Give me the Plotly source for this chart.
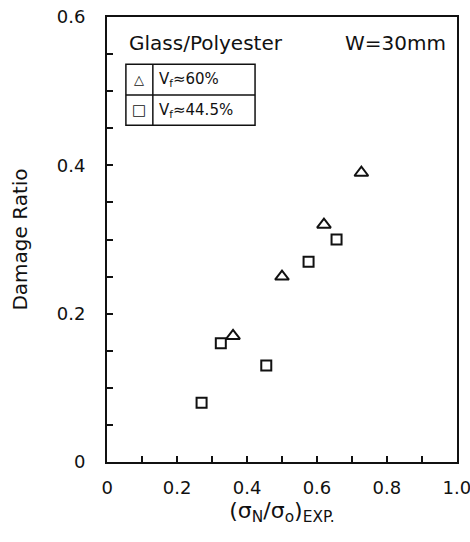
import plotly.graph_objects as go

# Data
vf60_x = [0.36, 0.50, 0.62, 0.727]
vf60_y = [0.17, 0.25, 0.32, 0.39]
vf445_x = [0.27, 0.325, 0.455, 0.576, 0.656]
vf445_y = [0.08, 0.16, 0.13, 0.27, 0.30]

x_tickvals = [0, 0.2, 0.4, 0.6, 0.8, 1.0]
x_ticktext = ["0", "0.2", "0.4", "0.6", "0.8", "1.0"]
y_tickvals = [0, 0.2, 0.4, 0.6]
y_ticktext = ["0", "0.2", "0.4", "0.6"]

FONT = "DejaVu Sans"
BLACK = "#111111"

fig = go.Figure()
fig.add_trace(go.Scatter(
    x=vf60_x, y=vf60_y, mode="markers", name="Vf≈60%",
    marker=dict(symbol="triangle-up-open", size=12, color=BLACK,
                line=dict(width=2, color=BLACK)),
))
fig.add_trace(go.Scatter(
    x=vf445_x, y=vf445_y, mode="markers", name="Vf≈44.5%",
    marker=dict(symbol="square-open", size=10, color=BLACK,
                line=dict(width=2, color=BLACK)),
))

axis_common = dict(
    showgrid=False, zeroline=False, showline=True, linecolor=BLACK,
    linewidth=2, mirror=True, ticks="inside", tickcolor=BLACK,
    tickwidth=1.5, ticklen=6, automargin=False, ticklabeloverflow="allow",
    tickfont=dict(family=FONT, size=18, color=BLACK),
)

fig.update_xaxes(
    range=[-0.0005, 1.0005], tickvals=x_tickvals, ticktext=x_ticktext,
    minor=dict(dtick=0.1, tick0=0, ticks="inside", ticklen=6,
               tickwidth=1.5, tickcolor=BLACK),
    ticklabelstandoff=8,
    title=dict(text="(σ<sub>N</sub>/σ<sub>o</sub>)<sub>EXP.</sub>",
               font=dict(family=FONT, size=22, color=BLACK), standoff=4),
    **axis_common,
)
fig.update_yaxes(
    range=[0, 0.6], tickvals=y_tickvals, ticktext=y_ticktext,
    minor=dict(dtick=0.05, tick0=0, ticks="inside", ticklen=6,
               tickwidth=1.5, tickcolor=BLACK),
    ticklabelstandoff=16,
    title=dict(text="Damage Ratio",
               font=dict(family=FONT, size=20, color=BLACK), standoff=24),
    **axis_common,
)

# Legend table drawn as shapes + annotations
box_x0, box_x1, div_x = 0.054, 0.423, 0.131
box_y0, box_y1, row_y = 0.757, 0.894, 0.825
shapes = [
    dict(type="rect", xref="paper", yref="paper", x0=box_x0, x1=box_x1,
         y0=box_y0, y1=box_y1, line=dict(color=BLACK, width=1.5)),
    dict(type="line", xref="paper", yref="paper", x0=div_x, x1=div_x,
         y0=box_y0, y1=box_y1, line=dict(color=BLACK, width=1.5)),
    dict(type="line", xref="paper", yref="paper", x0=box_x0, x1=box_x1,
         y0=row_y, y1=row_y, line=dict(color=BLACK, width=1.5)),
]
annotations = [
    dict(text="Glass/Polyester", xref="paper", yref="paper", x=0.058, y=0.942,
         xanchor="left", yanchor="middle", showarrow=False,
         font=dict(family=FONT, size=20, color=BLACK)),
    dict(text="W=30mm", xref="paper", yref="paper", x=0.975, y=0.942,
         xanchor="right", yanchor="middle", showarrow=False,
         font=dict(family=FONT, size=20, color=BLACK)),
    dict(text="△", xref="paper", yref="paper", x=(box_x0 + div_x) / 2,
         y=(row_y + box_y1) / 2, xanchor="center", yanchor="middle",
         showarrow=False, font=dict(family=FONT, size=13, color=BLACK)),
    dict(text="□", xref="paper", yref="paper", x=(box_x0 + div_x) / 2,
         y=(row_y + box_y0) / 2, xanchor="center", yanchor="middle",
         showarrow=False, font=dict(family=FONT, size=15, color=BLACK)),
    dict(text="V<sub>f</sub>≈60%", xref="paper", yref="paper", x=div_x + 0.012,
         y=(row_y + box_y1) / 2, xanchor="left", yanchor="middle",
         showarrow=False, font=dict(family=FONT, size=15, color=BLACK)),
    dict(text="V<sub>f</sub>≈44.5%", xref="paper", yref="paper", x=div_x + 0.012,
         y=(row_y + box_y0) / 2, xanchor="left", yanchor="middle",
         showarrow=False, font=dict(family=FONT, size=15, color=BLACK)),
]

fig.update_layout(
    width=470, height=542,
    margin=dict(l=107, r=13, t=17, b=80, autoexpand=False),
    paper_bgcolor="white", plot_bgcolor="white",
    showlegend=False,
    shapes=shapes, annotations=annotations,
    font=dict(family=FONT, color=BLACK),
)

fig.write_html(
    "out.html",
    config={"displayModeBar": False},
    post_script="document.body.style.margin='0';document.body.style.overflow='hidden';",
)
